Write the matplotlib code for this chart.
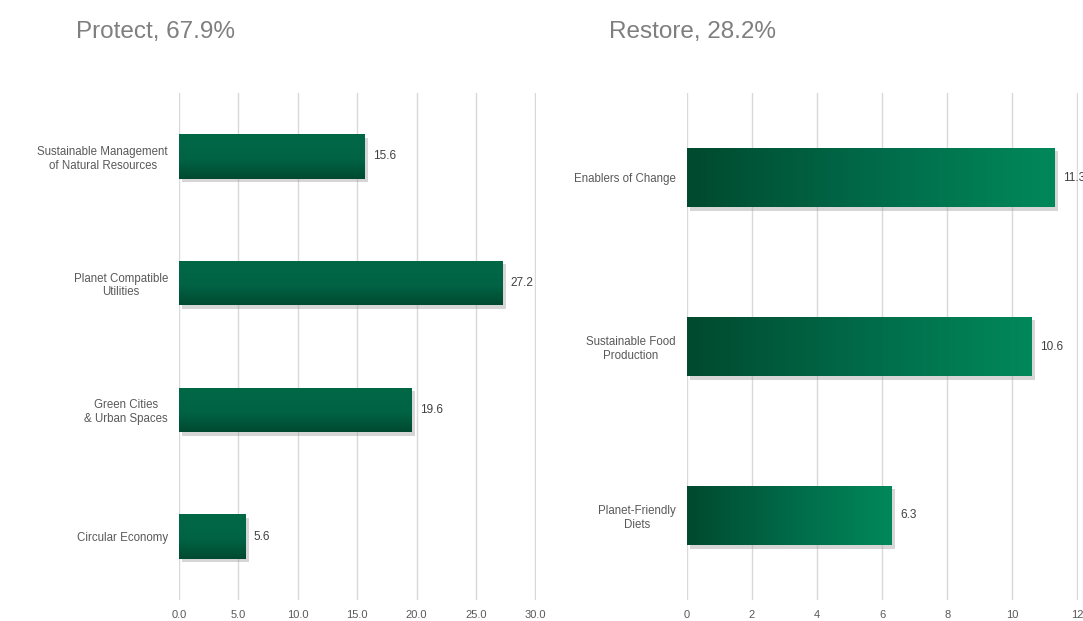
import numpy as np
import matplotlib
matplotlib.use("Agg")
import matplotlib.pyplot as plt
import matplotlib.patheffects as pe
from matplotlib.colors import LinearSegmentedColormap

plt.rcParams['font.family'] = ['Liberation Sans', 'DejaVu Sans']

# data
protect_title = "Protect, 67.9%"
protect_labels = ["Sustainable Management\nof Natural Resources", "Planet Compatible\nUtilities",
                  "Green Cities\n& Urban Spaces", "Circular Economy"]
protect_values = [15.6, 27.2, 19.6, 5.6]
protect_ticks = [0, 5, 10, 15, 20, 25, 30]

restore_title = "Restore, 28.2%"
restore_labels = ["Enablers of Change", "Sustainable Food\nProduction", "Planet-Friendly\nDiets"]
restore_values = [11.3, 10.6, 6.3]
restore_ticks = [0, 2, 4, 6, 8, 10, 12]

grid_col = "#d9d9d9"
text_col = "#595959"

# vertical gradient for Protect bars (dark at bottom), horizontal for Restore
cmap_v = LinearSegmentedColormap.from_list("v", [(0, "#004a30"), (0.45, "#006444"), (1, "#006846")])
cmap_h = LinearSegmentedColormap.from_list("h", ["#004a2f", "#006a48", "#00885a"])


def draw_panel(ax, labels, values, ticks, cmap, vertical, fmt, label_pad):
    y = np.arange(len(values))
    bars = ax.barh(y, values, height=0.35, color="#005a3c", zorder=3,
                   path_effects=[pe.SimplePatchShadow(offset=(2.5, -2.5), shadow_rgbFace="#999999", alpha=0.4),
                                 pe.Normal()])
    if vertical:
        grad = np.linspace(0, 1, 100).reshape(-1, 1)
    else:
        grad = np.linspace(0, 1, 100).reshape(1, -1)
    for b, v in zip(bars, values):
        x0, y0, w, h = b.get_x(), b.get_y(), b.get_width(), b.get_height()
        im = ax.imshow(grad, cmap=cmap, aspect='auto', origin='lower',
                       extent=(x0, x0 + w, y0 + h, y0) if vertical else (x0, x0 + w, y0, y0 + h),
                       zorder=4, interpolation='bicubic')
        im.set_clip_path(b)
        ax.annotate(fmt.format(v), (x0 + w, y0 + h / 2), xytext=(6, 0), textcoords='offset points',
                    va='center', ha='left', fontsize=8.5, color="#404040", annotation_clip=False)
    ax.set_yticks(y)
    ax.set_yticklabels(labels, ha='right', multialignment='center')
    ax.tick_params(axis='y', length=0, pad=label_pad)
    ax.set_xticks(ticks)
    ax.tick_params(axis='x', length=0, pad=7)
    # a hair of room so the last gridline is not clipped
    ax.set_xlim(ticks[0], ticks[-1] * 1.002)
    ax.set_ylim(len(values) - 0.5, -0.5)
    ax.grid(axis='x', color=grid_col, linewidth=1, zorder=0)
    ax.set_axisbelow(True)
    for s in ax.spines.values():
        s.set_visible(False)
    for t in ax.get_xticklabels():
        t.set_color(text_col)
        t.set_fontsize(8)
    for t in ax.get_yticklabels():
        t.set_color(text_col)
        t.set_fontsize(8.3)


fig = plt.figure(figsize=(10.83, 6.21), dpi=100)

ax1 = fig.add_axes([179 / 1083, 21 / 621, 357 / 1083, 507 / 621])
draw_panel(ax1, protect_labels, protect_values, protect_ticks, cmap_v, True, "{:.1f}", 8)
ax1.xaxis.set_major_formatter(matplotlib.ticker.FormatStrFormatter('%.1f'))

ax2 = fig.add_axes([687 / 1083, 21 / 621, 391 / 1083, 507 / 621])
draw_panel(ax2, restore_labels, restore_values, restore_ticks, cmap_h, False, "{:.1f}", 8)

fig.text(76 / 1083, 1 - 32 / 621, protect_title, fontsize=17.5, color="#7f7f7f", va='center', ha='left')
fig.text(609 / 1083, 1 - 32 / 621, restore_title, fontsize=17.5, color="#7f7f7f", va='center', ha='left')

fig.savefig("out.png", dpi=100, facecolor="white")
